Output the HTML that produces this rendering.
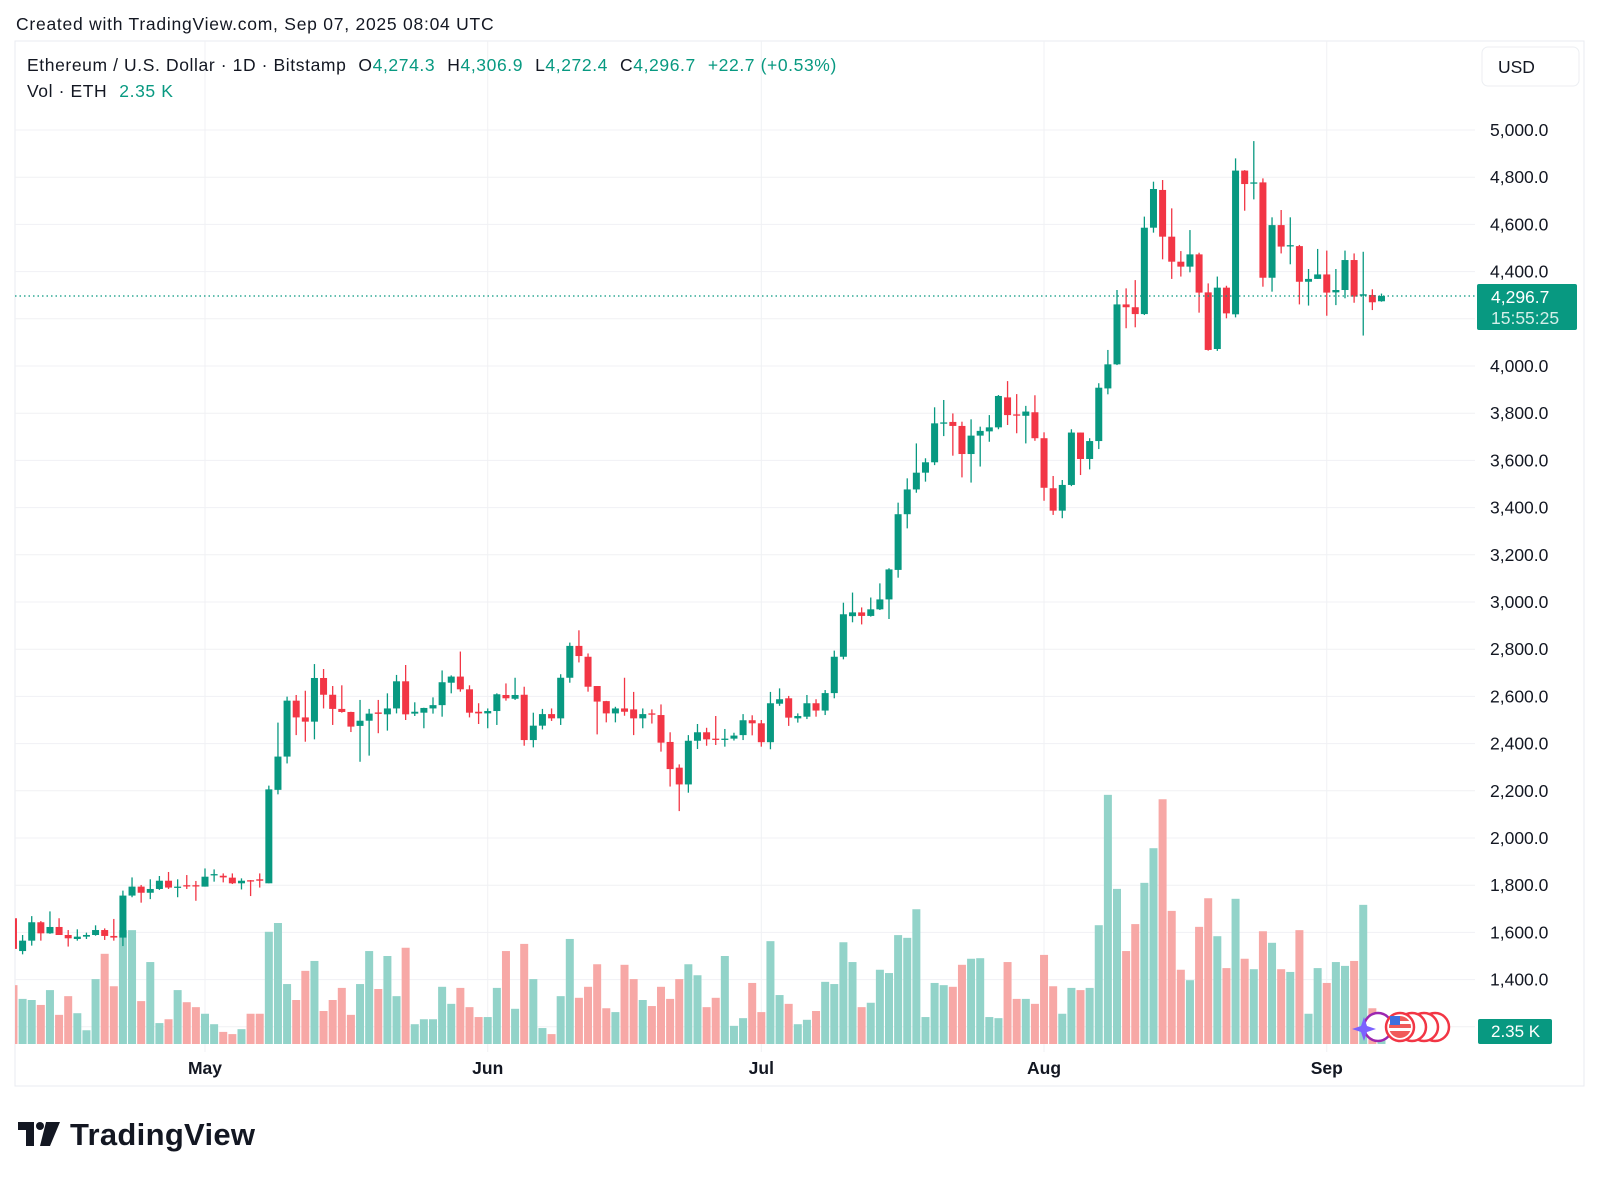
<!DOCTYPE html>
<html><head><meta charset="utf-8">
<style>
html,body{margin:0;padding:0;background:#fff;}
body{width:1600px;height:1178px;overflow:hidden;font-family:"Liberation Sans",sans-serif;}
svg text{font-family:"Liberation Sans",sans-serif;}
</style></head>
<body>
<svg id="chart" width="1600" height="1178" viewBox="0 0 1600 1178" xmlns="http://www.w3.org/2000/svg">
  <text x="16" y="30" font-size="17.5" letter-spacing="0.75" fill="#131722">Created with TradingView.com, Sep 07, 2025 08:04 UTC</text>
  <rect x="15" y="41" width="1569" height="1045" fill="none" stroke="#e9ebf0" stroke-width="1"/>
  <g id="grid"></g>
  <g id="vols"></g>
  <g id="candles"></g>
  <g id="axis"></g>
  <g id="taxis"></g>
  <line id="lastline" x1="15" x2="1475" stroke="#089981" stroke-width="1.3" stroke-dasharray="1.5 3"/>
  <g>
    <text x="27" y="71" font-size="17.5" letter-spacing="0.6" fill="#131722"><tspan>Ethereum / U.S. Dollar · 1D · Bitstamp</tspan><tspan dx="12">O</tspan><tspan fill="#089981">4,274.3</tspan><tspan dx="12">H</tspan><tspan fill="#089981">4,306.9</tspan><tspan dx="12">L</tspan><tspan fill="#089981">4,272.4</tspan><tspan dx="12">C</tspan><tspan fill="#089981">4,296.7</tspan><tspan dx="12" fill="#089981">+22.7 (+0.53%)</tspan></text>
    <text x="27" y="97" font-size="17.5" letter-spacing="0.6" fill="#131722">Vol · ETH<tspan dx="12" fill="#089981">2.35 K</tspan></text>
  </g>
  <g>
    <rect x="1482" y="47" width="97" height="39" rx="6" fill="#fff" stroke="#eceef2"/>
    <text x="1498" y="73" font-size="17.5" fill="#131722">USD</text>
  </g>
  <g>
    <rect x="1477" y="284" width="100" height="46" rx="2" fill="#089981"/>
    <text x="1491" y="303" font-size="17.5" fill="#fff">4,296.7</text>
    <text x="1491" y="324" font-size="17.5" fill="#d3efe9">15:55:25</text>
  </g>
  <g>
    <rect x="1478" y="1019" width="74" height="25" rx="2" fill="#089981"/>
    <text x="1491" y="1037" font-size="17" fill="#fff">2.35 K</text>
  </g>
  <g>
    <circle cx="1378" cy="1027" r="14" fill="#fff" stroke="#9c27b0" stroke-width="2.5"/>
    <path d="M1364 1017 l3 9 l9 3 l-9 3 l-3 9 l-3 -9 l-9 -3 l9 -3z" fill="#7b61ff"/>
    <circle cx="1435" cy="1027" r="14" fill="#fff" stroke="#f23645" stroke-width="2.5"/>
    <circle cx="1424" cy="1027" r="14" fill="#fff" stroke="#f23645" stroke-width="2.5"/>
    <circle cx="1412" cy="1027" r="14" fill="#fff" stroke="#f23645" stroke-width="2.5"/>
    <circle cx="1400" cy="1027" r="14" fill="#fff" stroke="#f23645" stroke-width="2.5"/>
    <circle cx="1400" cy="1027" r="11" fill="#f05a5a"/>
    <rect x="1389" y="1021" width="22" height="3" fill="#fff"/>
    <rect x="1389" y="1028" width="22" height="3" fill="#fff"/>
    <rect x="1390" y="1016" width="10" height="9" fill="#3d6fe0"/>
  </g>
  <g>
    <path d="M18 1122 h16 v24 h-8 v-16 h-8z" fill="#131722"/>
    <circle cx="40" cy="1126" r="4" fill="#131722"/>
    <path d="M46 1122 h14 l-10 24 h-10z" fill="#131722"/>
    <text x="70" y="1145" font-size="31" font-weight="bold" letter-spacing="0.3" fill="#131722">TradingView</text>
  </g>
</svg>
<script>
const opens=[1660,1521,1565,1643,1596,1623,1589,1572,1582,1589,1610,1585,1578,1756,1794,1768,1784,1819,1790,1800,1800,1794,1843,1840,1832,1808,1821,1825,1808,2204,2345,2582,2511,2493,2678,2607,2547,2534,2475,2497,2532,2524,2549,2664,2527,2531,2549,2563,2658,2684,2630,2535,2528,2538,2606,2590,2607,2415,2476,2525,2507,2679,2814,2768,2644,2580,2528,2549,2545,2507,2528,2521,2407,2298,2227,2412,2448,2421,2418,2421,2436,2499,2486,2406,2569,2592,2507,2514,2571,2540,2614,2768,2940,2956,2941,2969,3011,3136,3372,3477,3548,3592,3757,3763,3746,3627,3705,3723,3740,3867,3795,3789,3804,3694,3482,3387,3496,3718,3606,3682,3905,4007,4261,4249,4220,4586,4746,4548,4442,4421,4473,4312,4072,4332,4219,4828,4777,4778,4374,4597,4508,4508,4357,4369,4388,4312,4322,4449,4298,4301,4274.3];
const highs=[1670,1589,1669,1648,1689,1660,1610,1613,1599,1630,1617,1657,1777,1833,1801,1825,1839,1856,1825,1843,1818,1871,1867,1850,1850,1829,1822,1850,2222,2489,2599,2606,2624,2737,2716,2644,2647,2535,2585,2547,2585,2613,2691,2733,2575,2552,2596,2710,2689,2790,2647,2571,2549,2613,2655,2679,2641,2531,2547,2549,2694,2828,2880,2782,2644,2581,2556,2679,2619,2549,2545,2566,2448,2312,2436,2483,2467,2517,2462,2446,2525,2520,2500,2619,2634,2602,2528,2606,2588,2627,2794,2997,3040,2977,3019,3079,3143,3421,3524,3672,3609,3825,3856,3799,3764,3774,3743,3792,3877,3936,3881,3831,3876,3719,3534,3517,3732,3718,3694,3927,4068,4322,4329,4364,4633,4781,4788,4668,4487,4576,4480,4350,4379,4340,4880,4830,4953,4795,4630,4661,4630,4513,4411,4496,4489,4411,4489,4477,4484,4325,4306.9];
const lows=[1520,1507,1544,1565,1594,1589,1540,1565,1572,1586,1568,1565,1542,1749,1726,1741,1780,1784,1749,1784,1734,1794,1815,1812,1805,1782,1754,1790,1808,2185,2316,2436,2408,2418,2549,2479,2531,2449,2323,2349,2444,2455,2528,2500,2517,2465,2527,2514,2613,2620,2511,2483,2465,2479,2582,2585,2391,2384,2460,2496,2479,2658,2744,2620,2439,2490,2490,2518,2436,2465,2485,2366,2218,2114,2192,2377,2391,2394,2387,2413,2415,2435,2387,2376,2560,2475,2489,2504,2514,2521,2592,2757,2914,2905,2938,2966,2928,3103,3312,3463,3510,3580,3703,3620,3528,3506,3574,3679,3732,3750,3715,3672,3683,3429,3369,3355,3491,3538,3562,3648,3880,4004,4160,4164,4216,4565,4452,4369,4379,4397,4226,4065,4064,4202,4206,4658,4706,4336,4315,4477,4431,4261,4256,4369,4213,4258,4287,4268,4129,4237,4272.4];
const closes=[1530,1565,1643,1596,1623,1589,1575,1582,1589,1610,1585,1578,1756,1794,1768,1784,1819,1790,1794,1796,1798,1836,1847,1833,1808,1819,1819,1819,2206,2345,2582,2511,2493,2678,2607,2547,2534,2472,2497,2527,2526,2549,2664,2524,2535,2551,2563,2660,2684,2630,2531,2528,2538,2609,2592,2606,2415,2476,2525,2507,2679,2814,2771,2641,2578,2528,2549,2535,2507,2525,2524,2404,2292,2227,2412,2448,2418,2418,2421,2434,2499,2486,2406,2571,2588,2510,2517,2571,2540,2614,2768,2948,2956,2941,2969,3011,3138,3372,3477,3548,3592,3757,3761,3746,3627,3705,3725,3740,3873,3792,3792,3807,3694,3484,3387,3496,3718,3606,3682,3908,4007,4261,4249,4220,4586,4750,4548,4442,4421,4473,4311,4068,4332,4223,4828,4771,4778,4374,4597,4506,4512,4357,4369,4388,4311,4322,4449,4294,4304,4270,4296.7];
const volumes=[10.7,8.2,8.0,7.1,9.8,5.3,8.7,5.6,2.5,11.8,16.4,10.5,20.7,20.7,7.8,14.9,3.8,4.5,9.8,7.6,6.7,5.5,3.6,2.2,1.8,2.7,5.5,5.5,20.4,22.0,10.9,8.0,13.3,15.1,6.0,8.0,10.2,5.3,10.9,16.9,10.0,16.0,8.7,17.5,3.6,4.5,4.5,10.4,7.3,10.2,6.7,4.9,4.9,10.2,16.9,6.4,18.2,11.8,2.9,1.8,8.7,19.1,8.4,10.4,14.5,6.5,5.8,14.4,11.8,8.0,6.9,10.4,8.2,11.8,14.5,12.5,6.7,8.4,16.0,3.3,4.7,11.1,5.8,18.7,8.9,7.3,3.6,4.4,6.0,11.3,10.9,18.5,14.9,6.7,7.5,13.5,12.9,19.8,19.3,24.5,4.9,11.1,10.7,10.4,14.4,15.5,15.6,4.9,4.7,14.9,8.2,8.2,7.3,16.2,10.5,5.5,10.2,9.8,10.2,21.6,45.3,28.2,16.9,21.8,29.3,35.6,44.5,24.2,13.5,11.6,21.3,26.5,19.6,13.8,26.4,15.5,13.6,20.5,18.4,13.6,13.1,20.7,5.5,13.8,11.1,14.9,14.2,15.1,25.3,6.5,2.35];
const priceTicks=[5000,4800,4600,4400,4200,4000,3800,3600,3400,3200,3000,2800,2600,2400,2200,2000,1800,1600,1400,1200];
const monthLabels=["May","Jun","Jul","Aug","Sep"];
const monthIndex=[21,52,82,113,144];
const lastPrice=4296.7;

const NS="http://www.w3.org/2000/svg";
function yP(p){return 130+(5000-p)*0.236;}
function xI(i){return 205+(i-21)*9.12;}
const VOL_BASE=1044, VOL_PX=5.5;
function yV(v){return VOL_BASE-v*VOL_PX;}
function mk(tag,attrs,parent){const e=document.createElementNS(NS,tag);for(const k in attrs)e.setAttribute(k,attrs[k]);parent.appendChild(e);return e;}
const GREEN="#089981",RED="#f23645",VG="#92d3c9",VR="#f7a8a6";
const grid=document.getElementById('grid');
priceTicks.forEach(function(p){
  const l=mk('line',{x1:15,x2:1475,y1:yP(p),y2:yP(p),stroke:'#f0f1f4','stroke-width':1},grid);
  
  
});
monthIndex.forEach(function(i){
  const l=mk('line',{x1:xI(i),x2:xI(i),y1:41,y2:1052,stroke:'#f0f1f4','stroke-width':1},grid);
  
  
});
const axis=document.getElementById('axis');
priceTicks.forEach(function(p){
  if(p===1200) return;
  const t=mk('text',{x:1490,y:yP(p)+6,'font-size':17.5,fill:'#131722'},axis);
  t.textContent=p.toLocaleString('en-US',{minimumFractionDigits:1,maximumFractionDigits:1});
  
  
});
const taxis=document.getElementById('taxis');
monthLabels.forEach(function(m,k){
  const t=mk('text',{x:xI(monthIndex[k]),y:1074,'font-size':17.5,'font-weight':'bold','text-anchor':'middle',fill:'#131722'},taxis);
  t.textContent=m;
  
  
});
const vols=document.getElementById('vols');
const candles=document.getElementById('candles');
const clipL=15;
for(let i=0;i<closes.length;i++){
  const up=closes[i]>=opens[i];
  const x=xI(i);
  let vx=x-4, vw=8;
  if(vx<clipL){vw-=clipL-vx;vx=clipL;}
  if(vw>0){
    const vb=mk('rect',{x:vx,y:yV(volumes[i]),width:vw,height:VOL_BASE-yV(volumes[i]),fill:up?VG:VR},vols);
    
    
  }
  const col=up?GREEN:RED;
  if(x>=clipL){
    const w=mk('line',{x1:x,x2:x,y1:yP(highs[i]),y2:yP(lows[i]),stroke:col,'stroke-width':1.3},candles);
    
    
  }
  const top=yP(Math.max(opens[i],closes[i])), bot=yP(Math.min(opens[i],closes[i]));
  let bx=x-3.5, bw=7;
  if(bx<clipL){bw-=clipL-bx;bx=clipL;}
  if(bw>0){
    const b=mk('rect',{x:bx,y:top,width:bw,height:Math.max(1.3,bot-top),fill:col},candles);
    
    
  }
}
const ll=document.getElementById('lastline');
ll.setAttribute('y1',yP(lastPrice));ll.setAttribute('y2',yP(lastPrice));
</script>
</body></html>
